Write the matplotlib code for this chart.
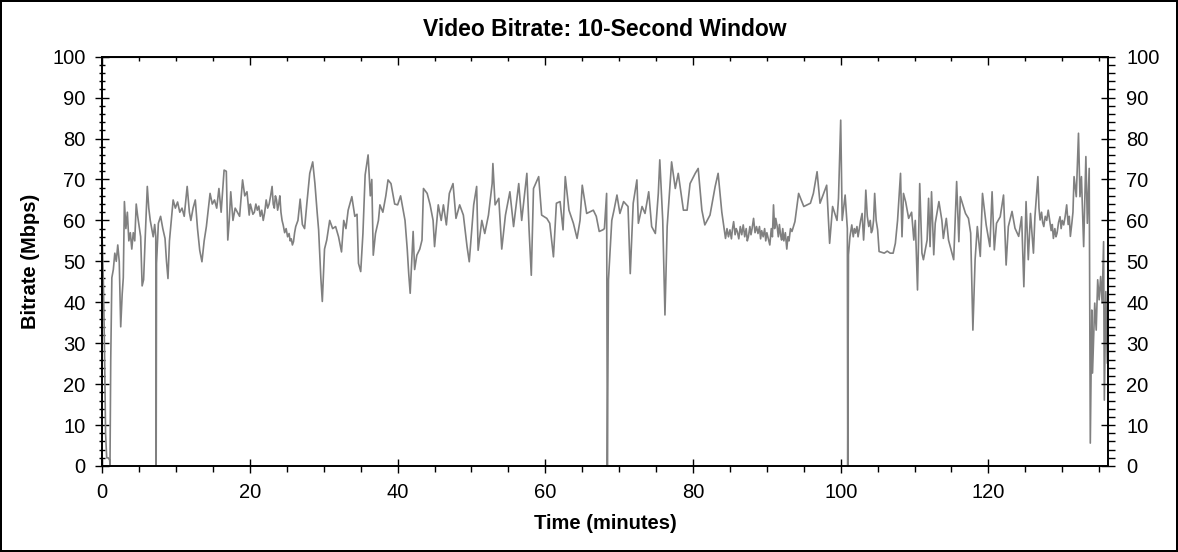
import matplotlib.pyplot as plt
from matplotlib.ticker import MultipleLocator

plt.rcParams['font.family'] = ['Liberation Sans', 'DejaVu Sans']

# time (minutes) and bitrate (Mbps); one line of t per line of bitrate
t = [0.0, 0.15, 0.3, 0.45, 0.6, 0.8, 1.0, 1.05, 1.15, 1.3,
     1.5, 1.7, 1.9, 2.1, 2.3, 2.5, 2.7, 2.85, 3.0, 3.2,
     3.4, 3.6, 3.8, 4.0, 4.2, 4.4, 4.6, 4.8, 5.0, 5.2,
     5.4, 5.6, 5.8, 6.1, 6.3, 6.5, 6.7, 6.9, 7.1, 7.25,
     7.3, 7.35, 7.6, 7.9, 8.2, 8.5, 8.7, 8.9, 9.1, 9.3,
     9.6, 9.9, 10.2, 10.5, 10.8, 11.1, 11.5, 11.8, 12.0, 12.3,
     12.6, 12.9, 13.2, 13.5, 13.8, 14.1, 14.6, 14.9, 15.2, 15.5,
     15.8, 16.1, 16.5, 16.8, 17.0, 17.2, 17.4, 17.7, 18.0, 18.3,
     18.6, 19.0, 19.3, 19.6, 19.9, 20.05, 20.2, 20.4, 20.6, 20.8,
     21.0, 21.2, 21.4, 21.6, 21.8, 22.0, 22.2, 22.4, 22.6, 22.8,
     23.0, 23.15, 23.3, 23.45, 23.6, 23.75, 23.9, 24.05, 24.2, 24.35,
     24.5, 24.7, 24.9, 25.1, 25.3, 25.45, 25.6, 25.75, 25.9, 26.05,
     26.2, 26.5, 26.8, 27.1, 27.4, 27.7, 28.1, 28.5, 28.8, 29.1,
     29.3, 29.6, 29.8, 30.1, 30.4, 30.8, 31.2, 31.6, 32.0, 32.4,
     32.7, 33.0, 33.3, 33.8, 34.2, 34.5, 34.7, 35.0, 35.3, 35.6,
     36.0, 36.3, 36.5, 36.7, 37.0, 37.4, 37.6, 38.0, 38.4, 38.7,
     39.1, 39.6, 40.0, 40.4, 40.8, 41.0, 41.3, 41.5, 41.7, 42.1,
     42.3, 42.6, 43.0, 43.3, 43.5, 44.0, 44.4, 44.8, 45.0, 45.5,
     45.9, 46.2, 46.6, 47.0, 47.5, 47.9, 48.4, 48.9, 49.4, 49.7,
     50.3, 50.7, 50.9, 51.4, 51.8, 52.3, 52.8, 52.9, 53.2, 53.7,
     54.1, 54.6, 55.2, 55.7, 56.4, 56.8, 57.5, 57.8, 58.1, 58.4,
     59.1, 59.5, 60.2, 60.6, 61.1, 61.5, 62.0, 62.4, 62.7, 63.2,
     63.8, 64.3, 64.7, 65.0, 65.6, 66.5, 66.9, 67.3, 67.8, 68.0,
     68.3, 68.4, 68.55, 68.8, 69.0, 69.3, 69.7, 70.1, 70.6, 71.2,
     71.5, 71.9, 72.4, 72.6, 73.1, 73.5, 74.0, 74.4, 74.9, 75.3,
     75.5, 75.9, 76.2, 76.5, 76.9, 77.1, 77.6, 78.0, 78.7, 79.2,
     79.6, 80.3, 80.7, 81.2, 81.6, 82.3, 83.0, 83.4, 83.9, 84.4,
     84.6, 84.8, 85.0, 85.2, 85.35, 85.5, 85.7, 85.85, 86.0, 86.2,
     86.4, 86.6, 86.8, 87.0, 87.2, 87.35, 87.5, 87.7, 87.85, 88.0,
     88.2, 88.4, 88.6, 88.8, 89.0, 89.15, 89.3, 89.5, 89.7, 89.85,
     90.0, 90.2, 90.4, 90.6, 90.75, 90.9, 91.05, 91.2, 91.4, 91.55,
     91.7, 91.85, 92.0, 92.15, 92.3, 92.5, 92.7, 92.85, 93.0, 93.2,
     93.4, 93.6, 93.8, 94.3, 95.0, 95.9, 96.3, 96.8, 97.2, 98.1,
     98.5, 98.9, 99.5, 99.7, 100.0, 100.2, 100.6, 100.9, 100.95, 101.05,
     101.25, 101.5, 101.7, 101.85, 102.0, 102.2, 102.35, 102.5, 102.7, 102.9,
     103.1, 103.25, 103.4, 103.6, 103.8, 104.0, 104.15, 104.3, 104.45, 104.6,
     104.8, 105.0, 105.2, 105.9, 106.3, 106.7, 107.1, 107.4, 107.7, 108.1,
     108.3, 108.5, 108.8, 109.2, 109.6, 109.9, 110.1, 110.4, 110.7, 111.0,
     111.2, 111.7, 111.9, 112.1, 112.3, 112.6, 112.8, 113.3, 113.7, 113.9,
     114.3, 114.6, 115.3, 115.7, 116.0, 116.2, 116.9, 117.3, 117.6, 117.9,
     118.2, 118.5, 118.9, 119.2, 119.7, 120.2, 120.5, 120.8, 121.1, 121.6,
     122.05, 122.4, 122.7, 123.2, 123.6, 124.1, 124.5, 124.8, 125.1, 125.4,
     125.7, 126.1, 126.3, 126.7, 126.85, 127.0, 127.2, 127.35, 127.5, 127.7,
     127.9, 128.1, 128.3, 128.5, 128.65, 128.8, 129.0, 129.15, 129.3, 129.5,
     129.7, 129.85, 130.0, 130.2, 130.4, 130.6, 130.8, 130.95, 131.1, 131.3,
     131.45, 131.6, 131.9, 132.2, 132.4, 132.6, 132.9, 133.2, 133.4, 133.65,
     133.8, 134.0, 134.1, 134.4, 134.6, 134.8, 135.0, 135.2, 135.4, 135.6,
     135.7, 135.9, 136.1, 136.3]
bitrate = [55, 45, 29, 8, 2, 2, 1.5, 0.4, 26, 46,
           48, 52, 50, 54, 50, 34, 42, 46, 64.6, 58,
           62, 55, 57, 53, 57, 55, 64, 61, 58.5, 56,
           44, 45.5, 55, 68.3, 63, 60, 58, 56, 59, 56,
           0, 49.5, 59.3, 61, 58, 55.6, 50, 45.8, 55, 59,
           65, 63, 64.5, 62, 63, 61, 68.3, 62, 60, 63,
           65, 58, 52.7, 49.9, 55, 58.5, 66.6, 64, 65, 63,
           67.8, 62, 72.3, 72, 55.2, 60, 67, 60, 63, 62,
           61, 69.9, 66, 67, 61.3, 64, 63, 61.5, 62, 64,
           62.5, 63.5, 61, 62.5, 60, 62, 65, 63, 64, 66,
           68.3, 64, 63, 66, 65, 62.5, 64, 66, 62, 60,
           58.9, 57, 58, 56, 56.8, 55, 55.5, 54, 54.8, 57,
           58.5, 60, 65.2, 59, 58, 64, 71.5, 74.3, 69, 62,
           57.7, 46, 40.2, 53, 55.2, 60, 58, 58.5, 56, 52.3,
           60, 58, 62.5, 65.8, 61, 61.5, 49.5, 47.5, 56.8, 71.1,
           76, 66, 70, 51.5, 56.8, 60, 63.8, 62, 66, 69.9,
           69, 64, 63.8, 66, 62, 60, 53, 47, 42.2, 57.3,
           48, 51.5, 53, 55.2, 67.8, 66.6, 63.8, 60, 53.6, 63.8,
           60, 63.8, 58.9, 66.6, 69, 60.5, 63.8, 61.3, 53.6, 49.9,
           63.8, 68.3, 52.7, 60, 56.8, 61.3, 69, 73.9, 63.8, 65.4,
           53, 61.3, 67, 58.5, 69, 60, 71.5, 57.7, 46.6, 67.8,
           70.7, 61.3, 60.5, 59.3, 51.1, 64.2, 64.6, 57.7, 70.7, 62.5,
           59.3, 55.6, 60, 68.6, 61.7, 62.5, 61, 57.3, 57.7, 58,
           66.6, 0, 45.4, 53.6, 60, 62.5, 66.2, 61.7, 64.6, 63.4,
           47, 64.2, 69.9, 59.3, 63.4, 61.7, 67, 58.5, 56.8, 66.6,
           74.8, 60, 36.9, 58.5, 69, 74.3, 67.8, 71.5, 62.5, 62.5,
           69, 71.5, 72.7, 62.5, 58.9, 61.3, 68.3, 71.5, 62, 55.6,
           58, 56, 57.7, 55.5, 58, 59.7, 56.5, 58, 57.3, 55.5,
           58.5, 56.5, 58.9, 56, 58, 55, 56, 58.5, 56.5, 58,
           60.5, 57, 58.5, 56.8, 58.5, 55.5, 57.5, 56, 58, 55,
           57, 55.5, 54, 58, 56, 63.8, 58, 60.5, 58.5, 56,
           59, 56.5, 55.2, 58, 55, 57, 53, 56, 55, 58,
           57.3, 58.5, 59.7, 66.6, 63.4, 64.2, 66.6, 71.9, 64.2, 68.6,
           54.4, 63.4, 60, 65.4, 84.5, 60, 66.2, 58, 0, 51.6,
           56, 58.9, 56, 58, 56.9, 58.5, 56, 57.7, 60, 61.7,
           55.2, 60, 67.4, 61, 58.5, 60, 57, 57.7, 60, 66.6,
           60, 57.7, 52.4, 52, 52.5, 52, 52, 54.4, 60, 71.5,
           56, 66.6, 64.5, 60.5, 62, 55.2, 60, 43, 69, 52,
           50.4, 55.2, 65.4, 53.6, 67, 51.6, 59.3, 64.6, 60, 55.6,
           60.5, 55.2, 50.4, 69.5, 54.8, 65.8, 61.7, 60.5, 56.9, 33.2,
           50.4, 58.5, 51.2, 66.6, 58.9, 53.6, 67, 52.8, 59.3, 60.9,
           66.2, 49.1, 58.5, 62.2, 58.1, 56.1, 60.9, 43.8, 64.6, 50.4,
           61.7, 52, 60.9, 70.7, 63, 60.1, 62, 59.5, 58.5, 61,
           60, 62.5, 60, 57.5, 59, 55.6, 58, 56, 56.9, 59.5,
           60.9, 58, 60, 58.9, 61, 63.8, 59, 61, 56.1, 59.3,
           62, 70.7, 65.8, 81.3, 65.8, 70.7, 53.6, 75.6, 59.3, 72.7,
           5.6, 38.1, 22.7, 39.8, 33.2, 45.5, 40.6, 46.3, 39.8, 54.8,
           16.1, 42.6, 25.1, 42.6]

x_max = 136.2

fig = plt.figure(figsize=(11.78, 5.52), dpi=100)
fig.patch.set_edgecolor('black')
fig.patch.set_linewidth(1.5)
ax = fig.add_axes([0.0868, 0.1558, 0.8538, 0.7415])

ax.plot(t, bitrate, color='#808080', lw=1.2)
ax.set_xlim(0, x_max)
ax.set_ylim(0, 100)

ax.xaxis.set_major_locator(MultipleLocator(20))
ax.xaxis.set_minor_locator(MultipleLocator(5))
ax.yaxis.set_major_locator(MultipleLocator(10))
ax.yaxis.set_minor_locator(MultipleLocator(2))
ax.tick_params(which='major', direction='inout', length=10, width=1, labelsize=14.5, pad=7)
ax.tick_params(which='minor', direction='inout', length=4.5, width=1)
ax.tick_params(axis='x', which='minor', direction='out', length=4)

ax2 = ax.twinx()
ax2.set_ylim(0, 100)
ax2.yaxis.set_major_locator(MultipleLocator(10))
ax2.yaxis.set_minor_locator(MultipleLocator(2))
ax2.tick_params(which='major', direction='inout', length=10, width=1, labelsize=14.5, pad=8)
ax2.tick_params(which='minor', direction='out', length=5, width=1)

top = ax.secondary_xaxis('top')
top.xaxis.set_major_locator(MultipleLocator(20))
top.xaxis.set_minor_locator(MultipleLocator(5))
top.tick_params(which='major', direction='in', length=6, width=1, labeltop=False)
top.tick_params(which='minor', direction='in', length=3, width=1)

for a in (ax, ax2):
    for s in a.spines.values():
        s.set_linewidth(1.2)

ax.set_title('Video Bitrate: 10-Second Window', fontsize=16.5, fontweight='bold', pad=15)
ax.set_xlabel('Time (minutes)', fontsize=14.5, fontweight='bold', labelpad=9)
ax.set_ylabel('Bitrate (Mbps)', fontsize=14.5, fontweight='bold', labelpad=9)

fig.savefig('out.png', dpi=100, edgecolor=fig.get_edgecolor())
